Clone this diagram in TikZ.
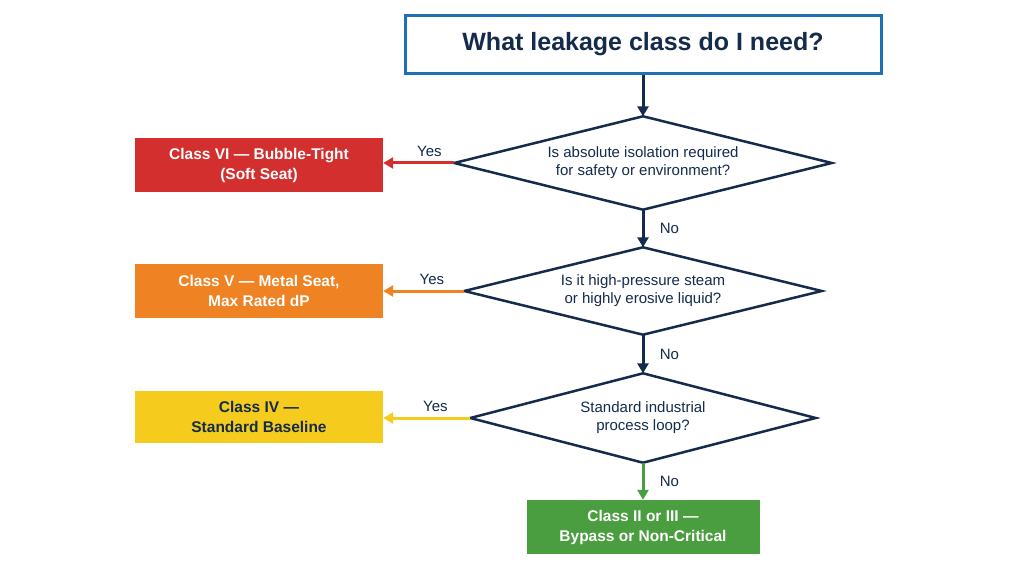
\documentclass[tikz,border=0pt]{standalone}
\usepackage{fontspec}
\setmainfont{Liberation Sans}
\usetikzlibrary{arrows.meta}
\definecolor{navy}{HTML}{142B4C}
\definecolor{tblue}{HTML}{1F6FB5}
\definecolor{cred}{HTML}{D32F2F}
\definecolor{corange}{HTML}{EF8223}
\definecolor{cyellow}{HTML}{F5CC1E}
\definecolor{cgreen}{HTML}{4A9E3F}
\begin{document}
\begin{tikzpicture}[x=1pt,y=-1pt,
  dia/.style={inner sep=0pt,align=center,font=\fontsize{15}{18}\selectfont,text=navy},
  dline/.style={draw=navy,line width=2.5pt,fill=white,line join=miter},
  res/.style={minimum width=248pt,minimum height=54pt,inner sep=0pt,align=center,font=\bfseries\fontsize{15.5}{20}\selectfont,text=white},
  arr/.style={line width=3pt,-{Triangle[length=10pt,width=11pt]}},
  lab/.style={font=\fontsize{15}{17}\selectfont,text=navy}]
\useasboundingbox (0,0) rectangle (1024,572);
\fill[white] (0,0) rectangle (1024,572);
\node[draw=tblue,line width=3pt,fill=white,minimum width=476pt,minimum height=58pt,font=\bfseries\fontsize{25}{29}\selectfont,text=navy] (t) at (643,44.5) {What leakage class do I need?};
\node[dia,minimum width=377pt,minimum height=93pt] (d1) at (643,163) {};
\node[dia,minimum width=357pt,minimum height=87pt] (d2) at (643,291) {};
\node[dia,minimum width=345pt,minimum height=89pt] (d3) at (643,418) {};
\foreach \d in {d1,d2,d3}
  \draw[dline] (\d.north)--(\d.east)--(\d.south)--(\d.west)--cycle;
\node[dia] (q1) at (d1) {Is absolute isolation required\\for safety or environment?};
\node[dia] (q2) at (d2) {Is it high-pressure steam\\or highly erosive liquid?};
\node[dia] (q3) at (d3) {Standard industrial\\process loop?};
\node[res,fill=cred] (r1) at (259,165) {Class VI — Bubble-Tight\\(Soft Seat)};
\node[res,fill=corange] (r2) at (259,291) {Class V — Metal Seat,\\Max Rated dP};
\node[res,fill=cyellow,text=navy,minimum height=52pt] (r3) at (259,417) {Class IV —\\Standard Baseline};
\node[res,fill=cgreen,minimum width=233pt] (r4) at (643,527) {Class II or III —\\Bypass or Non-Critical};
\draw[arr,navy] (t.south) -- (d1.north);
\draw[arr,navy] (d1.south) -- (d2.north) node[lab,midway,right=12pt]{No};
\draw[arr,navy] (d2.south) -- (d3.north) node[lab,midway,right=12pt]{No};
\draw[arr,cgreen] (d3.south) -- (r4.north) node[lab,midway,right=12pt]{No};
\draw[arr,cred] (d1.west) -- (r1.east|-d1.west) node[lab,pos=0.35,above=2pt]{Yes};
\draw[arr,corange] (d2.west) -- (r2.east|-d2.west) node[lab,pos=0.4,above=2pt]{Yes};
\draw[arr,cyellow] (d3.west) -- (r3.east|-d3.west) node[lab,pos=0.4,above=2pt]{Yes};
\end{tikzpicture}
\end{document}
